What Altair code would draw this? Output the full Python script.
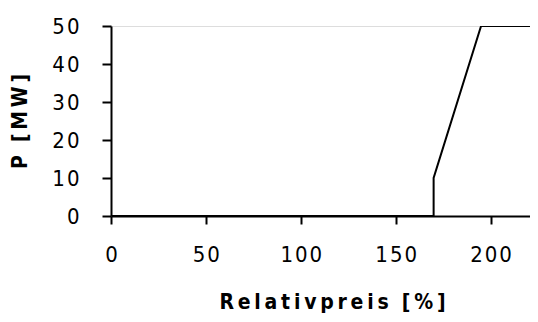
import altair as alt
import pandas as pd

# Data
price = [0, 170, 170, 195, 230]
power = [0, 0, 10, 50, 50]

x_ticks = [0, 50, 100, 150, 200]
x_tick_labels = ["0", "5\u200a0", "1\u200a0\u200a0", "1\u200a5\u200a0", "2\u200a0\u200a0"]
y_ticks = [0, 10, 20, 30, 40, 50]
y_tick_labels = ["0", "1\u200a0", "2\u200a0", "3\u200a0", "4\u200a0", "5\u200a0"]

T = "\u2009"
x_title = T.join("Relativpreis") + "\u00a0\u00a0" + T.join("[%]")
y_title = "P\u00a0\u00a0" + T.join("[MW]")

df = pd.DataFrame({"price": price, "power": power, "order": list(range(len(price)))})


def label_expr(ticks, labels):
    expr = "''"
    for t, l in reversed(list(zip(ticks, labels))):
        expr = f"datum.value == {t} ? '{l}' : ({expr})"
    return expr


FONT = "DejaVu Sans Condensed"

chart = (
    alt.Chart(df)
    .mark_line(color="black", strokeWidth=2, clip=True)
    .encode(
        x=alt.X(
            "price:Q",
            scale=alt.Scale(domain=[0, 225], nice=False, zero=True),
            axis=alt.Axis(
                values=x_ticks,
                labelExpr=label_expr(x_ticks, x_tick_labels),
                title=x_title,
                grid=False,
                domainColor="black",
                domainWidth=2,
                tickColor="black",
                tickWidth=2,
                tickSize=8,
                labelFont=FONT,
                labelFontSize=22,
                labelColor="black",
                labelPadding=20,
                titleFont=FONT,
                titleFontSize=21,
                titleFontWeight="bold",
                titleColor="black",
                titlePadding=26,
                titleX=221,
                labelFlush=False,
                labelOverlap=False,
            ),
        ),
        y=alt.Y(
            "power:Q",
            scale=alt.Scale(domain=[0, 50], nice=False),
            axis=alt.Axis(
                values=y_ticks,
                labelExpr=label_expr(y_ticks, y_tick_labels),
                title=y_title,
                grid=False,
                domainColor="black",
                domainWidth=2,
                tickColor="black",
                tickWidth=2,
                tickSize=9,
                labelFont=FONT,
                labelFontSize=22,
                labelColor="black",
                labelPadding=23,
                titleFont=FONT,
                titleFontSize=21,
                titleFontWeight="bold",
                titleColor="black",
                titlePadding=21,
                labelOverlap=False,
            ),
        ),
        order="order:Q",
    )
    .properties(
        width=427,
        height=190,
        autosize=alt.AutoSizeParams(type="none"),
        padding={"left": 103, "top": 18, "right": -8, "bottom": 98},
    )
    .configure_view(stroke=None)
    .configure(background="white")
)

chart.save("out.html", embed_options={"renderer": "svg", "actions": False})
